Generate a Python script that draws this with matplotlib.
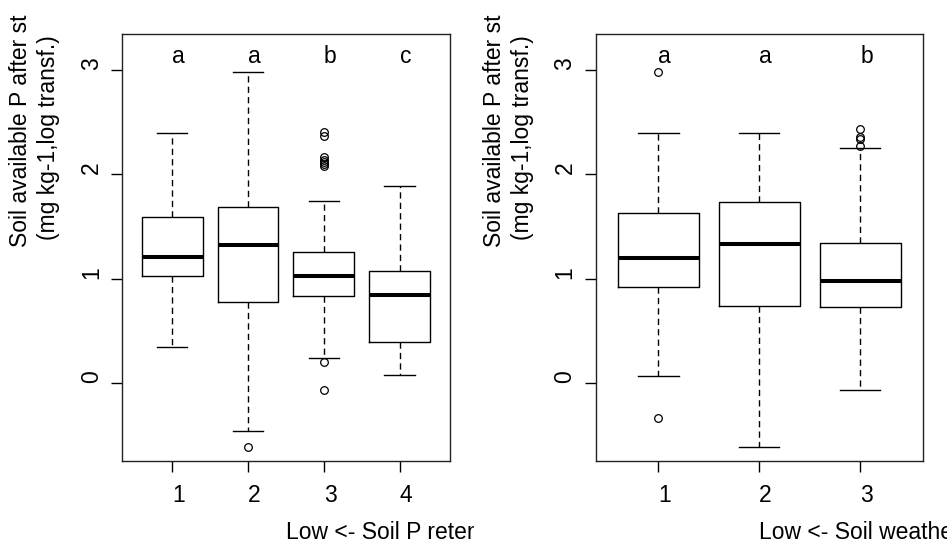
import matplotlib
matplotlib.use('Agg')
import matplotlib.pyplot as plt
from matplotlib.transforms import Bbox, TransformedBbox

plt.rcParams['font.family'] = 'Liberation Sans'
plt.rcParams['font.size'] = 16.5

W, H = 947, 546

# --- left panel: soil P retention class ---
ret_labels = ['1', '2', '3', '4']
ret_whislo = [0.35, -0.46, 0.24, 0.08]
ret_q1 = [1.03, 0.78, 0.84, 0.40]
ret_med = [1.21, 1.32, 1.03, 0.85]
ret_q3 = [1.59, 1.69, 1.26, 1.08]
ret_whishi = [2.40, 2.98, 1.75, 1.89]
ret_fliers = [[], [-0.61], [2.41, 2.37, 2.17, 2.14, 2.12, 2.10, 2.08, 0.20, -0.06], []]
ret_letters = ['a', 'a', 'b', 'c']

# --- right panel: soil weathering class ---
wea_labels = ['1', '2', '3']
wea_whislo = [0.07, -0.61, -0.06]
wea_q1 = [0.92, 0.74, 0.73]
wea_med = [1.20, 1.33, 0.98]
wea_q3 = [1.63, 1.74, 1.34]
wea_whishi = [2.40, 2.40, 2.25]
wea_fliers = [[2.98, -0.33], [], [2.44, 2.36, 2.34, 2.27]]
wea_letters = ['a', 'a', 'b']

ylab1 = 'Soil available P after st'
ylab2 = '(mg kg-1,log transf.)'

fig = plt.figure(figsize=(W / 100, H / 100), dpi=100)


def panel(x_off, labels, whislo, q1, med, q3, whishi, fliers, letters, xlab):
    # axes box in pixels (R default margins)
    left, right, top, bottom = 122.3 + x_off, 449.5 + x_off, 34.0, 461.0
    ax = fig.add_axes([left / W, 1 - bottom / H, (right - left) / W, (bottom - top) / H])
    n = len(labels)
    pos = list(range(1, n + 1))
    stats = [dict(med=med[i], q1=q1[i], q3=q3[i], whislo=whislo[i],
                  whishi=whishi[i], fliers=fliers[i]) for i in range(n)]
    ax.bxp(stats, positions=pos, widths=0.8, capwidths=0.4,
           boxprops=dict(color='black', linewidth=1.0),
           medianprops=dict(color='black', linewidth=2.9, solid_capstyle='butt'),
           whiskerprops=dict(color='black', linewidth=1.0, linestyle=(0, (4.5, 3))),
           capprops=dict(color='black', linewidth=1.0),
           flierprops=dict(marker='o', markerfacecolor='none', markeredgecolor='black',
                           markersize=5.5, markeredgewidth=0.9))
    ax.set_xlim(0.5 - 0.04 * n, n + 0.5 + 0.04 * n)
    ax.set_ylim(-0.744, 3.345)

    ax.set_xticks(pos)
    ax.set_xticklabels(labels, ha='left')
    ax.set_yticks([0, 1, 2, 3])
    ax.set_yticklabels(['0', '1', '2', '3'], rotation=90, va='bottom', ha='right')
    ax.tick_params(axis='x', direction='out', length=7.9, width=1, pad=8.5)
    ax.tick_params(axis='y', direction='out', length=7.9, width=1, pad=6)
    for s in ax.spines.values():
        s.set_linewidth(1.0)
        s.set_color('#222222')

    for p, let in zip(pos, letters):
        ax.text(p, 3.07, let, ha='left', va='baseline')

    # y label: two left-aligned lines starting at the axes centre
    fig.text((21 + x_off) / W, 1 - 246.7 / H, ylab1, rotation=90, ha='center', va='bottom')
    fig.text((49 + x_off) / W, 1 - 240.0 / H, ylab2, rotation=90, ha='center', va='bottom')

    # x label, left-aligned at axes centre and clipped to its half of the figure
    t = ax.text(0.5, (461.0 - 539.3) / (bottom - top), xlab, transform=ax.transAxes,
                ha='left', va='baseline')
    half = 0.0 if x_off == 0 else 0.5
    t.set_clip_box(TransformedBbox(Bbox([[half, 0], [half + 0.5, 1]]), fig.transFigure))
    t.set_clip_on(True)
    return ax


panel(0, ret_labels, ret_whislo, ret_q1, ret_med, ret_q3, ret_whishi, ret_fliers,
      ret_letters, 'Low <- Soil P retention')
panel(473.4, wea_labels, wea_whislo, wea_q1, wea_med, wea_q3, wea_whishi, wea_fliers,
      wea_letters, 'Low <- Soil weathering')

fig.savefig('out.png', dpi=100)
